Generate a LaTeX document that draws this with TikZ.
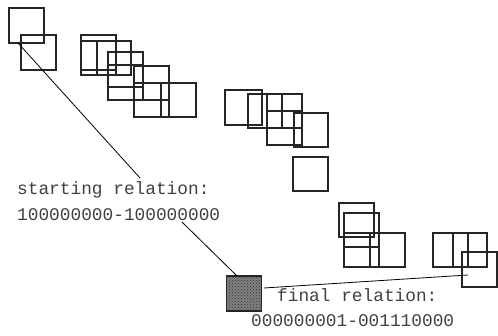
\documentclass[tikz,border=0pt]{standalone}
\usepackage{fontspec}
\setmonofont{Liberation Mono}
\usetikzlibrary{patterns}
\begin{document}
\begin{tikzpicture}[x=1pt,y=-1pt,
  sq/.style={draw=black!85, line width=1.5pt},
  conn/.style={draw=black, line width=0.8pt},
  lbl/.style={anchor=base west, inner sep=0pt, font=\ttfamily\fontsize{17.8}{20}\selectfont, text=black!75}]
\useasboundingbox (0,0) rectangle (498,336);
\foreach \a/\b/\c/\d in {9/8/44/43, 21/35/56/70,
  81/35/116/70, 81/41/116/75, 97/41/131/75,
  108/52/143/87, 108/65/143/100, 134/66/169/100, 134/83/169/117, 161/83/196/117,
  225/90/262/125, 248/94/282/128, 267/94/302/128, 267/111/302/145, 294/113/328/147,
  293/157/328/191,
  339/203/374/237, 344/213/379/247, 344/233/379/267, 370/233/405/267,
  433/233/468/267, 453/233/487/267, 462/252/497/287}
  \draw[sq] (\a,\b) rectangle (\c,\d);
% final (shaded) square
\node[draw=black!85, line width=1.5pt, minimum width=35pt, minimum height=35pt, inner sep=0pt,
  preaction={fill=black!50}, pattern=crosshatch dots, pattern color=black!80] (fin) at (244,293.5) {};
% labels
\node[lbl] (st1) at (17,195) {starting relation:};
\node[lbl] (st2) at (17,221) {100000000-100000000};
\node[lbl] (fr1) at (277,302) {final relation:};
\node[lbl] (fr2) at (251,327) {000000001-001110000};
% connector end points
\coordinate (p1) at (18,43);
\coordinate (p2) at (140,178);
\coordinate (p3) at (182,222);
\coordinate (p4) at (237,276);
\coordinate (p5) at (264,288);
\coordinate (p6) at (468,275);
\draw[conn] (p1) -- (p2);
\draw[conn] (p3) -- (p4);
\draw[conn] (p5) -- (p6);
\end{tikzpicture}
\end{document}
